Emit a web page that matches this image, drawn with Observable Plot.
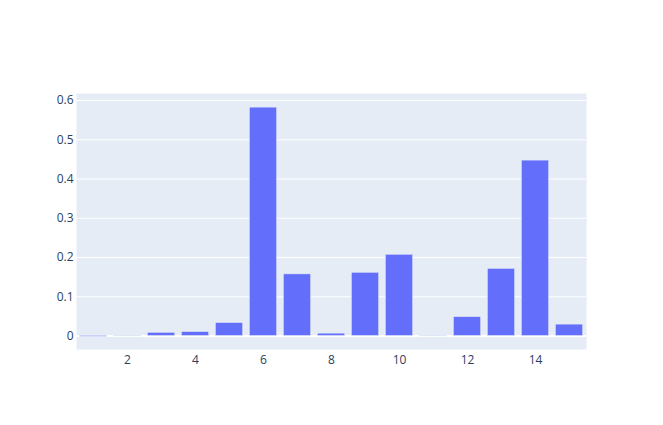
<!DOCTYPE html>
<html>
<head>
<meta charset="utf-8">
<script src="https://cdn.jsdelivr.net/npm/d3@7"></script>
<script src="https://cdn.jsdelivr.net/npm/@observablehq/plot@0.6"></script>
<style>
  html, body { margin: 0; padding: 0; background: #fff; }
  #chart svg { display: block; }
</style>
</head>
<body>
<div id="chart"></div>
<script>
const categories = [1, 2, 3, 4, 5, 6, 7, 8, 9, 10, 11, 12, 13, 14, 15];
const values = [-0.002, -0.001, 0.008, 0.010, 0.033, 0.582, 0.157, 0.006, 0.161, 0.207, -0.001, 0.048, 0.171, 0.447, 0.029];
const xTicks = [2, 4, 6, 8, 10, 12, 14];
const yTicks = [0, 0.1, 0.2, 0.3, 0.4, 0.5, 0.6];

const data = categories.map((c, i) => ({x: c, y: values[i]}));

const chart = Plot.plot({
  width: 663,
  height: 425,
  marginLeft: 76,
  marginRight: 77,
  marginTop: 93,
  marginBottom: 76,
  style: {fontFamily: "'Open Sans', sans-serif", fontSize: "12px", color: "#2a3f5f", background: "#fff"},
  x: {domain: [0.5, 15.5], ticks: xTicks, tickSize: 0, tickPadding: 6, tickFormat: d => String(d)},
  y: {domain: [-0.0344, 0.618], ticks: yTicks, tickSize: 0, tickPadding: 3, tickFormat: d => d === 0 ? "0" : String(d)},
  marks: [
    Plot.frame({fill: "#E5ECF6", stroke: null}),
    Plot.ruleY(yTicks.filter(t => t !== 0), {stroke: "#ffffff", strokeWidth: 1}),
    Plot.ruleY([0], {stroke: "#ffffff", strokeWidth: 2}),
    Plot.rectY(data, {x1: d => d.x - 0.4, x2: d => d.x + 0.4, y: "y", fill: "#636EFA", stroke: "#E5ECF6", strokeWidth: 0.5}),
    Plot.axisX({ticks: xTicks, tickSize: 0, tickPadding: 6, fill: "#2a3f5f", tickFormat: d => String(d), label: null}),
    Plot.axisY({ticks: yTicks, tickSize: 0, tickPadding: 3, fill: "#2a3f5f", tickFormat: d => d === 0 ? "0" : String(d), label: null})
  ]
});
document.getElementById("chart").appendChild(chart);
</script>
</body>
</html>
